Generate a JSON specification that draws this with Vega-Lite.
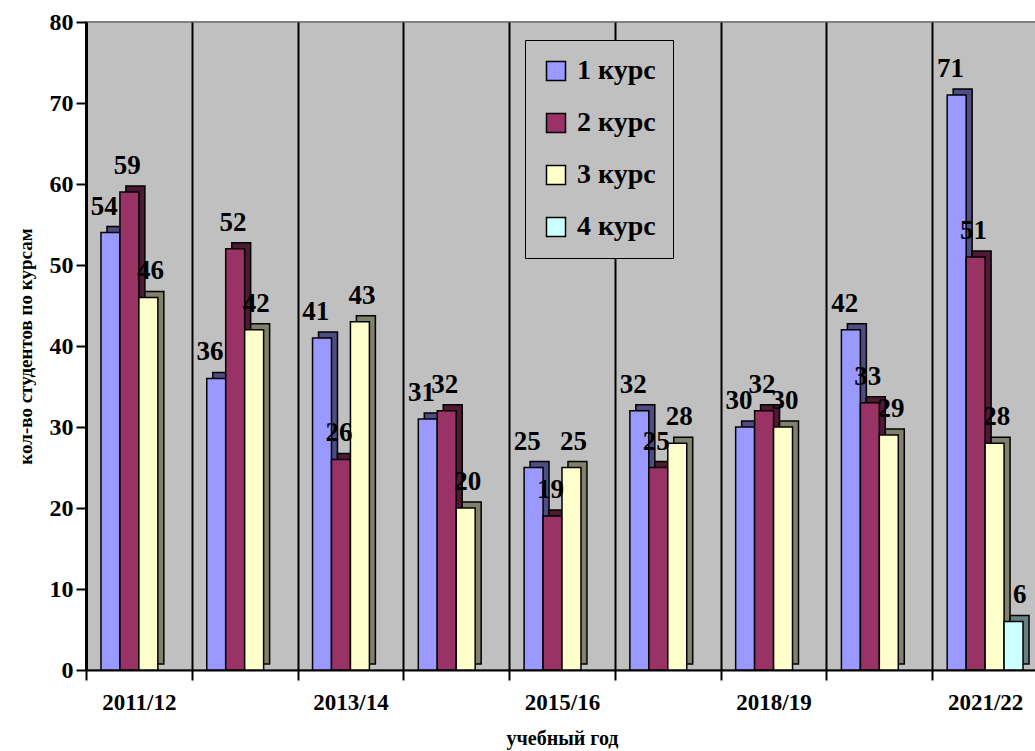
{
  "$schema": "https://vega.github.io/schema/vega-lite/v6.json",
  "autosize": {"type": "none"},
  "padding": {"left": 86, "top": 22, "right": 0, "bottom": 81},
  "width": 952,
  "height": 648,
  "background": "white",
  "data": {
    "values": [
      {"year": "2011/12", "course": "1 курс", "value": 54},
      {"year": "2011/12", "course": "2 курс", "value": 59},
      {"year": "2011/12", "course": "3 курс", "value": 46},
      {"year": "2012/13", "course": "1 курс", "value": 36},
      {"year": "2012/13", "course": "2 курс", "value": 52},
      {"year": "2012/13", "course": "3 курс", "value": 42},
      {"year": "2013/14", "course": "1 курс", "value": 41},
      {"year": "2013/14", "course": "2 курс", "value": 26},
      {"year": "2013/14", "course": "3 курс", "value": 43},
      {"year": "2014/15", "course": "1 курс", "value": 31},
      {"year": "2014/15", "course": "2 курс", "value": 32},
      {"year": "2014/15", "course": "3 курс", "value": 20},
      {"year": "2015/16", "course": "1 курс", "value": 25},
      {"year": "2015/16", "course": "2 курс", "value": 19},
      {"year": "2015/16", "course": "3 курс", "value": 25},
      {"year": "2016/17", "course": "1 курс", "value": 32},
      {"year": "2016/17", "course": "2 курс", "value": 25},
      {"year": "2016/17", "course": "3 курс", "value": 28},
      {"year": "2018/19", "course": "1 курс", "value": 30},
      {"year": "2018/19", "course": "2 курс", "value": 32},
      {"year": "2018/19", "course": "3 курс", "value": 30},
      {"year": "2019/20", "course": "1 курс", "value": 42},
      {"year": "2019/20", "course": "2 курс", "value": 33},
      {"year": "2019/20", "course": "3 курс", "value": 29},
      {"year": "2021/22", "course": "1 курс", "value": 71},
      {"year": "2021/22", "course": "2 курс", "value": 51},
      {"year": "2021/22", "course": "3 курс", "value": 28},
      {"year": "2021/22", "course": "4 курс", "value": 6}
    ]
  },
  "encoding": {
    "x": {
      "field": "year",
      "type": "nominal",
      "sort": null,
      "scale": {"paddingInner": 0, "paddingOuter": 0},
      "axis": {
        "title": "учебный год",
        "labelAngle": 0,
        "tickBand": "extent",
        "grid": true,
        "gridColor": "black",
        "gridWidth": 2,
        "gridOpacity": 1,
        "ticks": true,
        "tickSize": 10,
        "tickWidth": 2,
        "tickColor": "black",
        "domainColor": "black",
        "domainWidth": 2,
        "labelFont": "Liberation Serif, Times New Roman, serif",
        "labelFontWeight": "bold",
        "labelFontSize": 23,
        "labelColor": "black",
        "labelPadding": 11,
        "labelExpr": "indexof(['2011/12','2013/14','2015/16','2018/19','2021/22'], datum.value) >= 0 ? datum.label : ''",
        "titleFont": "Liberation Serif, Times New Roman, serif",
        "titleFontWeight": "bold",
        "titleFontSize": 20,
        "titleColor": "black",
        "titlePadding": 14
      }
    },
    "y": {
      "field": "value",
      "type": "quantitative",
      "scale": {"domain": [0, 80], "nice": false},
      "axis": {
        "title": "кол-во студентов по курсам",
        "values": [0, 10, 20, 30, 40, 50, 60, 70, 80],
        "grid": false,
        "tickSize": 10,
        "tickWidth": 2,
        "tickColor": "black",
        "domainColor": "black",
        "domainWidth": 3,
        "labelFont": "Liberation Serif, Times New Roman, serif",
        "labelFontWeight": "bold",
        "labelFontSize": 24,
        "labelColor": "black",
        "labelPadding": 3,
        "titleFont": "Liberation Serif, Times New Roman, serif",
        "titleFontWeight": "bold",
        "titleFontSize": 19,
        "titleColor": "black",
        "titlePadding": 14
      }
    }
  },
  "layer": [
    {
      "mark": {"type": "bar", "stroke": "black", "strokeWidth": 1.5, "yOffset": -6},
      "encoding": {
        "xOffset": {
          "field": "course",
          "scale": {"domain": ["1 курс", "2 курс", "3 курс", "4 курс"], "paddingInner": 0, "paddingOuter": 0.79, "align": 0.7}
        },
        "color": {
          "field": "course",
          "type": "nominal",
          "scale": {
            "domain": ["1 курс", "2 курс", "3 курс", "4 курс"],
            "range": ["#4D4D80", "#4D1A33", "#80806B", "#668080"]
          },
          "legend": null
        }
      }
    },
    {
      "mark": {"type": "bar", "stroke": "black", "strokeWidth": 1.5},
      "encoding": {
        "xOffset": {
          "field": "course",
          "scale": {"domain": ["1 курс", "2 курс", "3 курс", "4 курс"], "paddingInner": 0, "paddingOuter": 0.79}
        },
        "color": {
          "field": "course",
          "type": "nominal",
          "scale": {
            "domain": ["1 курс", "2 курс", "3 курс", "4 курс"],
            "range": ["#9999FF", "#993366", "#FFFFCC", "#CCFFFF"]
          },
          "legend": {
            "title": null,
            "orient": "none",
            "legendX": 439,
            "legendY": 18,
            "fillColor": "#C0C0C0",
            "strokeColor": "black",
            "padding": 17,
            "symbolType": "square",
            "symbolSize": 361,
            "symbolStrokeColor": "black",
            "symbolStrokeWidth": 1.5,
            "symbolOpacity": 1,
            "labelFont": "Liberation Serif, Times New Roman, serif",
            "labelFontWeight": "bold",
            "labelFontSize": 28,
            "labelColor": "black",
            "labelOffset": 7,
            "rowPadding": 24
          }
        }
      }
    },
    {
      "mark": {
        "type": "text",
        "font": "Liberation Serif, Times New Roman, serif",
        "fontWeight": "bold",
        "fontSize": 27,
        "color": "black",
        "align": "center",
        "baseline": "bottom",
        "dy": -12
      },
      "encoding": {
        "xOffset": {
          "field": "course",
          "scale": {"domain": ["1 курс", "2 курс", "3 курс", "4 курс"], "paddingInner": 0, "paddingOuter": 0.79}
        },
        "text": {"field": "value", "type": "quantitative"}
      }
    }
  ],
  "resolve": {"scale": {"color": "independent", "xOffset": "independent"}},
  "config": {
    "view": {"fill": "#C0C0C0", "stroke": "#808080", "strokeWidth": 2}
  }
}
